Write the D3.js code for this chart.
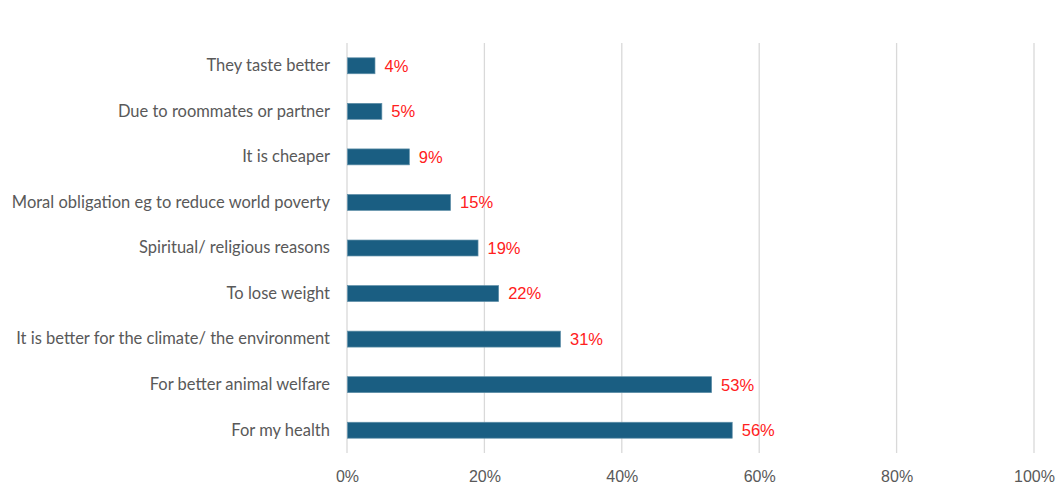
<!DOCTYPE html>
<html>
<head>
<meta charset="utf-8">
<script src="https://cdn.jsdelivr.net/npm/d3@7"></script>
<style>
  html, body { margin: 0; padding: 0; background: #fff; }
  svg { display: block; }
</style>
</head>
<body>
<svg id="chart" width="1061" height="488"></svg>
<script>
// Reasons for eating plant-based, share of respondents
const categories = [
  "They taste better",
  "Due to roommates or partner",
  "It is cheaper",
  "Moral obligation eg to reduce world poverty",
  "Spiritual/ religious reasons",
  "To lose weight",
  "It is better for the climate/ the environment",
  "For better animal welfare",
  "For my health"
];
const values = [0.04, 0.05, 0.09, 0.15, 0.19, 0.22, 0.31, 0.53, 0.56];
const tickValues = [0, 0.2, 0.4, 0.6, 0.8, 1.0];

const svg = d3.select("#chart");
const margin = { left: 347, right: 27, top: 43, bottom: 35 };
const W = 1061, H = 488;

const x = d3.scaleLinear().domain([0, 1]).range([margin.left, W - margin.right]);
const y = d3.scaleBand().domain(categories).range([margin.top, H - margin.bottom])
  .paddingInner(0.65).paddingOuter(0.325);

// vertical gridlines
svg.append("g").selectAll("line").data(tickValues).join("line")
  .attr("x1", d => x(d)).attr("x2", d => x(d))
  .attr("y1", margin.top).attr("y2", H - margin.bottom)
  .attr("stroke", "#d9d9d9").attr("stroke-width", 1.3);

// x axis tick labels
const xAxis = d3.axisBottom(x).tickValues(tickValues).tickFormat(d3.format(".0%")).tickSize(0).tickPadding(0);
const gx = svg.append("g").attr("transform", `translate(0, ${H - margin.bottom + 23})`).call(xAxis);
gx.select(".domain").remove();
gx.selectAll("text")
  .attr("font-family", "'Liberation Sans', Arial, sans-serif")
  .attr("font-size", 16).attr("fill", "#595959").attr("dy", "0.35em");

// category labels
const yAxis = d3.axisLeft(y).tickSize(0).tickPadding(17);
const gy = svg.append("g").attr("transform", `translate(${margin.left}, 0)`).call(yAxis);
gy.select(".domain").remove();
gy.selectAll("text")
  .attr("font-family", "Lato, 'Open Sans', sans-serif")
  .attr("font-size", 16.5).attr("fill", "#595959");

// bars
svg.append("g").selectAll("rect").data(categories).join("rect")
  .attr("x", x(0) + 0.5)
  .attr("y", d => y(d))
  .attr("width", (d, i) => x(values[i]) - x(0))
  .attr("height", y.bandwidth())
  .attr("fill", "#1a5e82")
  .attr("stroke", "#5f8fa8").attr("stroke-width", 0.7);

// value labels
svg.append("g").selectAll("text").data(categories).join("text")
  .attr("x", (d, i) => x(values[i]) + 10)
  .attr("y", d => y(d) + y.bandwidth() / 2)
  .attr("dy", "0.36em")
  .attr("font-family", "'Liberation Sans', Arial, sans-serif")
  .attr("font-size", 16.5).attr("fill", "#ff2020")
  .text((d, i) => d3.format(".0%")(values[i]));
</script>
</body>
</html>
